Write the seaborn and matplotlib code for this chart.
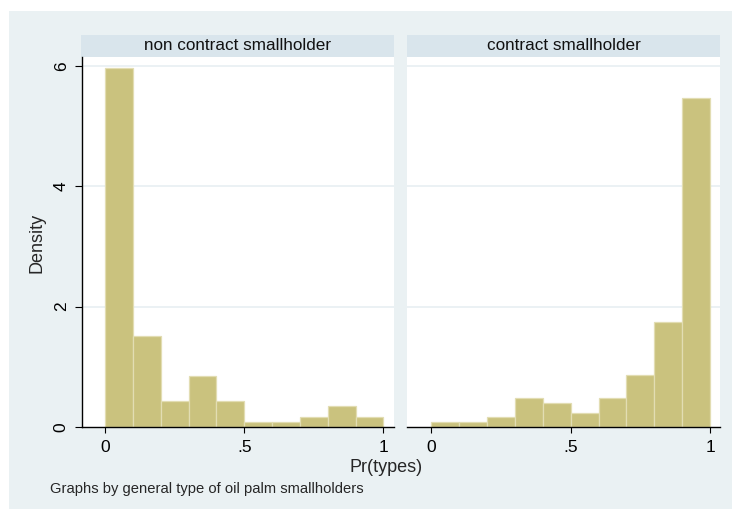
import numpy as np
import pandas as pd
import matplotlib
matplotlib.use("Agg")
import matplotlib.pyplot as plt
from matplotlib.patches import Rectangle
import seaborn as sns

# Histogram bins (width 0.1) of the predicted probability Pr(types)
bin_edges = [0.0, 0.1, 0.2, 0.3, 0.4, 0.5, 0.6, 0.7, 0.8, 0.9, 1.0]
panel_titles = ["non contract smallholder", "contract smallholder"]
density_non_contract = [5.97, 1.51, 0.43, 0.85, 0.43, 0.085, 0.085, 0.17, 0.35, 0.17]
density_contract = [0.08, 0.08, 0.17, 0.48, 0.40, 0.23, 0.48, 0.87, 1.75, 5.47]
x_ticks = [0, 0.5, 1]
x_tick_labels = ["0", ".5", "1"]
y_ticks = [0, 2, 4, 6]
y_tick_labels = ["0", "2", "4", "6"]

sns.set_style("white")
plt.rcParams["font.family"] = ["Liberation Sans", "DejaVu Sans"]

W, H = 732, 509
fig = plt.figure(figsize=(W / 100, H / 100), dpi=100)
fig.patch.set_facecolor("white")

OUTER = "#EAF1F3"
STRIP = "#D9E5EC"
BAR = "#CAC27E"
BAR_EDGE = "#E2DDB3"


def px(x0, y0, x1, y1):
    """Pixel box (top-left origin) -> figure-fraction rect."""
    return [x0 / W, 1 - y1 / H, (x1 - x0) / W, (y1 - y0) / H]


# outer graph region
fig.patches.append(Rectangle((9 / W, 0), 1 - 9 / W, 1 - 11 / H,
                             transform=fig.transFigure, facecolor=OUTER,
                             edgecolor="none", zorder=-10))

df = pd.DataFrame({
    "type": np.repeat(panel_titles, len(bin_edges) - 1),
    "mid": np.tile(np.array(bin_edges[:-1]) + 0.05, 2),
    "density": density_non_contract + density_contract,
})

panels = [
    dict(box=(82, 57, 394, 427), strip=(81, 35, 394, 57), xlim=(-0.083, 1.038)),
    dict(box=(407, 57, 720, 427), strip=(407, 35, 720, 57), xlim=(-0.086, 1.035)),
]

for i, (title, spec) in enumerate(zip(panel_titles, panels)):
    ax = fig.add_axes(px(*spec["box"]))
    ax.set_zorder(1)
    ax.set_facecolor("white")
    sub = df[df["type"] == title]
    sns.histplot(x=sub["mid"], weights=sub["density"], bins=bin_edges,
                 stat="count", ax=ax, color=BAR, alpha=1,
                 edgecolor=BAR_EDGE, linewidth=0.9, zorder=3)
    ax.set_xlim(*spec["xlim"])
    ax.set_ylim(0, 6.15)
    for g in [2, 4, 6]:
        ax.axhline(g, color="#E6EEF1", lw=1.1, zorder=1)
    ax.set_xlabel("")
    ax.set_ylabel("")
    for s in ["top", "right"]:
        ax.spines[s].set_visible(False)
    ax.spines["bottom"].set_color("black")
    ax.spines["bottom"].set_linewidth(1.0)
    ax.spines["bottom"].set_zorder(5)
    ax.set_xticks(x_ticks)
    ax.set_xticklabels(x_tick_labels, fontsize=12.5)
    ax.tick_params(axis="x", direction="out", length=4, width=0.8,
                   pad=5, colors="black", bottom=True)
    if i == 0:
        ax.spines["left"].set_color("black")
        ax.spines["left"].set_linewidth(1.0)
        ax.set_yticks(y_ticks)
        ax.set_yticklabels(y_tick_labels, fontsize=12.5, rotation=90,
                           va="center")
        ax.tick_params(axis="y", direction="out", length=5, width=0.8,
                       pad=4.5, colors="black", left=True)
    else:
        ax.spines["left"].set_visible(False)
        ax.set_yticks([])

    # panel header strip
    sx0, sy0, sx1, sy1 = spec["strip"]
    fig.patches.append(Rectangle((sx0 / W, 1 - sy1 / H),
                                 (sx1 - sx0) / W, (sy1 - sy0) / H,
                                 transform=fig.transFigure, facecolor=STRIP,
                                 edgecolor="none", zorder=-5))
    fig.text((sx0 + sx1) / 2 / W, 1 - (sy0 + sy1) / 2 / H, title,
             ha="center", va="center", fontsize=12.3, color="#111111")

fig.text(37 / W, 1 - 243 / H, "Density", rotation=90, ha="center",
         va="center", fontsize=13)
fig.text(386 / W, 1 - 467 / H, "Pr(types)", ha="center", va="center",
         fontsize=13)
fig.text(50 / W, 1 - 489 / H, "Graphs by general type of oil palm smallholders",
         ha="left", va="center", fontsize=10.6)

fig.savefig("out.png", dpi=100, facecolor=fig.get_facecolor())
